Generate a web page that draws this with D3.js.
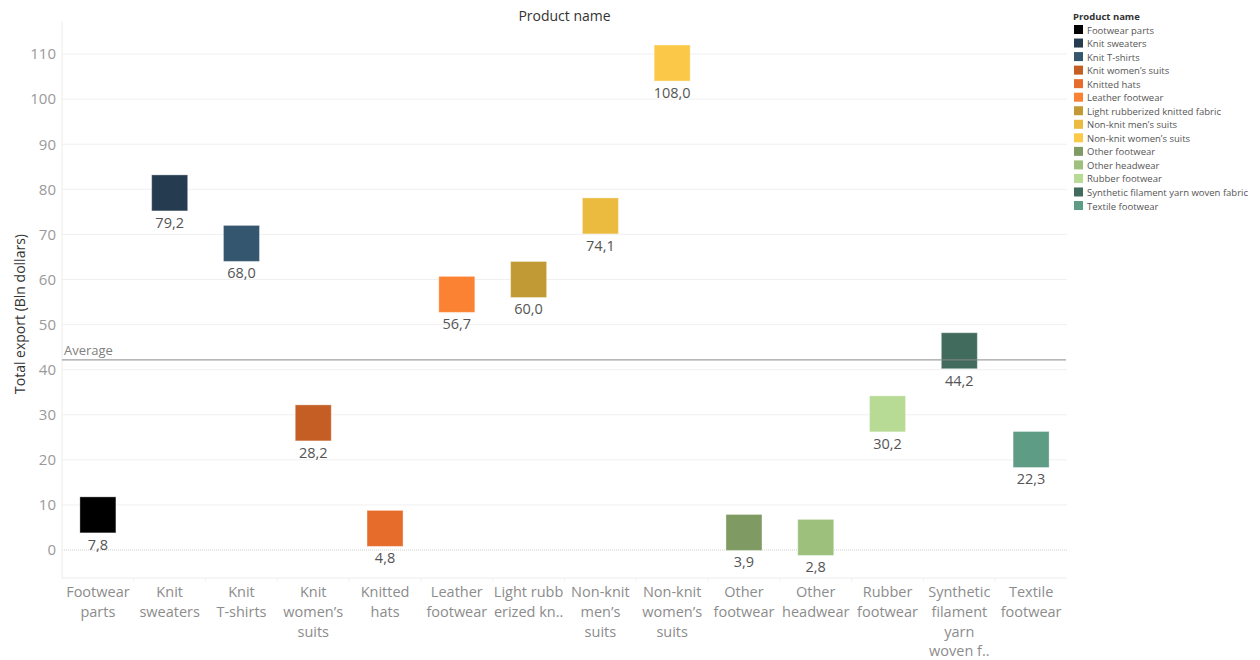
<!DOCTYPE html>
<html>
<head>
<meta charset="utf-8">
<script src="https://cdn.jsdelivr.net/npm/d3@7/dist/d3.min.js"></script>
<style>
  html, body { margin: 0; padding: 0; background: #fff; }
  svg { display: block; font-family: "Open Sans", "Noto Sans", sans-serif; }
</style>
</head>
<body>
<svg id="chart" width="1260" height="660"></svg>
<script>
// Product categories, their export totals (bln dollars) and colours
const categories = [
  "Footwear parts", "Knit sweaters", "Knit T-shirts", "Knit women's suits",
  "Knitted hats", "Leather footwear", "Light rubberized knitted fabric",
  "Non-knit men's suits", "Non-knit women's suits", "Other footwear",
  "Other headwear", "Rubber footwear", "Synthetic filament yarn woven fabric",
  "Textile footwear"
];
const values = [7.8, 79.2, 68.0, 28.2, 4.8, 56.7, 60.0, 74.1, 108.0, 3.9, 2.8, 30.2, 44.2, 22.3];
const colors = [
  "#000000", "#253b4f", "#34566f", "#c45e24", "#e66c2c", "#fb8232", "#c29a35",
  "#ebbb40", "#fcc847", "#7f9b63", "#9dc17d", "#b7da95", "#406b5d", "#5e9c86"
];
// Axis tick labels as wrapped under each column
const xTickLabels = [
  ["Footwear", "parts"], ["Knit", "sweaters"], ["Knit", "T-shirts"],
  ["Knit", "women’s", "suits"], ["Knitted", "hats"], ["Leather", "footwear"],
  ["Light rubb", "erized kn.."], ["Non-knit", "men’s", "suits"],
  ["Non-knit", "women’s", "suits"], ["Other", "footwear"], ["Other", "headwear"],
  ["Rubber", "footwear"], ["Synthetic", "filament", "yarn", "woven f.."],
  ["Textile", "footwear"]
];
const legendLabels = [
  "Footwear parts", "Knit sweaters", "Knit T-shirts", "Knit women’s suits",
  "Knitted hats", "Leather footwear", "Light rubberized knitted fabric",
  "Non-knit men’s suits", "Non-knit women’s suits", "Other footwear",
  "Other headwear", "Rubber footwear", "Synthetic filament yarn woven fabric",
  "Textile footwear"
];
const yTicks = [0, 10, 20, 30, 40, 50, 60, 70, 80, 90, 100, 110];

const svg = d3.select("#chart");
const plot = { left: 62, right: 1067, top: 22, bottom: 578 };

const x = d3.scaleBand().domain(categories).range([plot.left, plot.right]).padding(0);
const y = d3.scaleLinear().domain([-6.2, 117.1]).range([plot.bottom, plot.top]);

// Horizontal gridlines
svg.append("g").selectAll("line").data(yTicks.filter(d => d !== 0)).join("line")
  .attr("x1", plot.left).attr("x2", plot.right)
  .attr("y1", d => y(d)).attr("y2", d => y(d))
  .attr("stroke", "#f0f0f0").attr("stroke-width", 1);

// Zero line
svg.append("line")
  .attr("x1", plot.left).attr("x2", plot.right)
  .attr("y1", y(0)).attr("y2", y(0))
  .attr("stroke", "#cfcfcf").attr("stroke-dasharray", "1,1");

// Frame lines
svg.append("line").attr("x1", plot.left).attr("x2", plot.left)
  .attr("y1", plot.top).attr("y2", plot.bottom).attr("stroke", "#ececec");
svg.append("line").attr("x1", plot.left).attr("x2", plot.right)
  .attr("y1", plot.bottom).attr("y2", plot.bottom).attr("stroke", "#ececec");
svg.append("g").selectAll("line").data(categories.slice(1)).join("line")
  .attr("x1", d => x(d)).attr("x2", d => x(d))
  .attr("y1", plot.bottom).attr("y2", plot.bottom + 4)
  .attr("stroke", "#f2f2f2");

// Y axis
const yAxis = d3.axisLeft(y).tickValues(yTicks).tickSize(0).tickPadding(6);
const yg = svg.append("g").attr("transform", `translate(${plot.left},0)`).call(yAxis);
yg.select(".domain").remove();
yg.selectAll("text").attr("fill", "#9a9a9a").style("font-size", "15px")
  .style("font-family", "'Open Sans', sans-serif");

svg.append("text")
  .attr("transform", `translate(25,${(y(0) + plot.top) / 2 + 28}) rotate(-90)`)
  .attr("text-anchor", "middle")
  .attr("fill", "#333").style("font-size", "14px")
  .text("Total export (Bln dollars)");

// Column header
svg.append("text")
  .attr("x", (plot.left + plot.right) / 2).attr("y", 21)
  .attr("text-anchor", "middle").attr("fill", "#333")
  .style("font-size", "14px").style("font-weight", "500")
  .text("Product name");

// X tick labels (wrapped)
const xl = svg.append("g").selectAll("text").data(categories).join("text")
  .attr("x", d => x(d) + x.bandwidth() / 2)
  .attr("y", 597)
  .attr("text-anchor", "middle")
  .attr("fill", "#8c8c8c").style("font-size", "14.5px");
xl.each(function (d, i) {
  const t = d3.select(this);
  xTickLabels[i].forEach((line, j) => {
    t.append("tspan").attr("x", x(d) + x.bandwidth() / 2)
      .attr("dy", j === 0 ? 0 : 19.8).text(line);
  });
});

// Square marks centred on each value
const size = 36;
const data = categories.map((c, i) => ({ c, v: values[i], col: colors[i] }));
svg.append("g").selectAll("rect").data(data).join("rect")
  .attr("x", d => x(d.c) + x.bandwidth() / 2 - size / 2)
  .attr("y", d => y(d.v) - size / 2)
  .attr("width", size).attr("height", size)
  .attr("fill", d => d.col)
  .attr("stroke", "#ffffff").attr("stroke-opacity", 0.35).attr("stroke-width", 1);

// Value labels
svg.append("g").selectAll("text").data(data).join("text")
  .attr("x", d => x(d.c) + x.bandwidth() / 2)
  .attr("y", d => y(d.v) + size / 2 + 17)
  .attr("text-anchor", "middle")
  .attr("fill", "#555").style("font-size", "14.5px")
  .text(d => d3.format(".1f")(d.v).replace(".", ","));

// Average reference line
const avg = d3.mean(values);
svg.append("line")
  .attr("x1", plot.left).attr("x2", plot.right - 1)
  .attr("y1", y(avg)).attr("y2", y(avg))
  .attr("stroke", "#8a8a8a").attr("stroke-opacity", 0.8).attr("stroke-width", 1.2);
svg.append("text")
  .attr("x", plot.left + 2).attr("y", y(avg) - 5)
  .attr("fill", "#808080").style("font-size", "13px")
  .text("Average");

// Legend
const lg = svg.append("g").attr("transform", "translate(1073,0)");
lg.append("text").attr("x", 0).attr("y", 20)
  .attr("fill", "#333").style("font-size", "9.5px").style("font-weight", "700")
  .text("Product name");
const items = lg.selectAll("g.item").data(legendLabels).join("g")
  .attr("class", "item")
  .attr("transform", (d, i) => `translate(0,${25 + i * 13.54})`);
items.append("rect").attr("x", 1).attr("y", 0).attr("width", 9).attr("height", 9)
  .attr("fill", (d, i) => colors[i]);
items.append("text").attr("x", 14).attr("y", 8.5)
  .attr("fill", "#555").style("font-size", "9.5px").text(d => d);
</script>
</body>
</html>
